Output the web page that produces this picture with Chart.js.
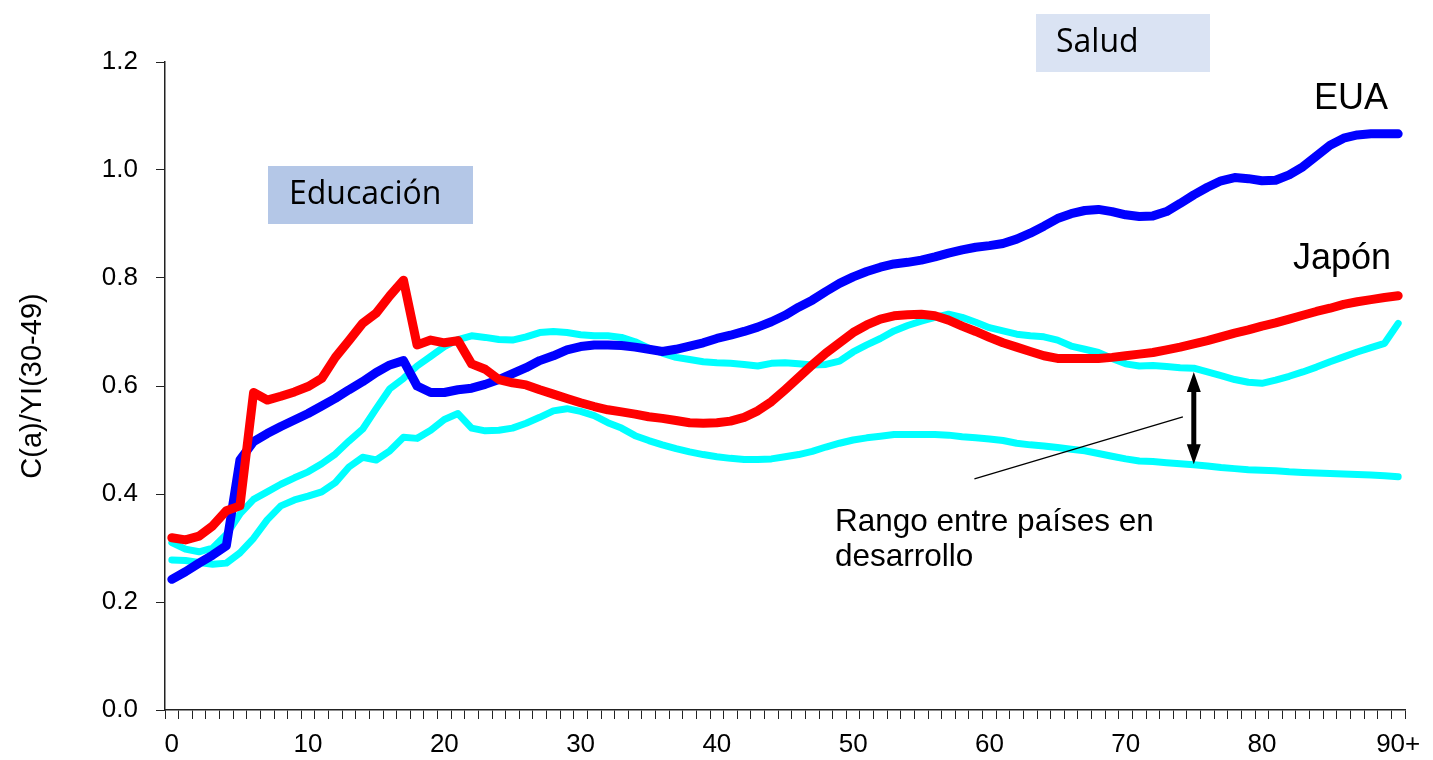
<!DOCTYPE html>
<html>
<head>
    <title>C(a)/YI(30-49)</title>
    <script src="https://cdn.jsdelivr.net/npm/chart.js"></script>
    <style>
        body { margin: 0; background: #fff; }
        canvas { display: block; }
    </style>
</head>
<body>
    <canvas id="chart" width="1433" height="760"></canvas>
    <script>
        // edades 0..89 y 90+
        const ages = [
            '0','1','2','3','4','5','6','7','8','9','10','11','12','13','14','15','16','17','18','19',
            '20','21','22','23','24','25','26','27','28','29','30','31','32','33','34','35','36','37','38','39',
            '40','41','42','43','44','45','46','47','48','49','50','51','52','53','54','55','56','57','58','59',
            '60','61','62','63','64','65','66','67','68','69','70','71','72','73','74','75','76','77','78','79',
            '80','81','82','83','84','85','86','87','88','89','90+'
        ];

        const japon = [
            0.319,0.315,0.322,0.341,0.369,0.378,0.588,0.574,0.581,0.589,
            0.599,0.614,0.653,0.684,0.716,0.735,0.767,0.796,0.676,0.685,
            0.680,0.684,0.641,0.631,0.612,0.606,0.602,0.593,0.585,0.577,
            0.569,0.562,0.556,0.552,0.548,0.543,0.540,0.536,0.532,0.531,
            0.532,0.535,0.542,0.554,0.571,0.593,0.616,0.639,0.661,0.680,
            0.699,0.713,0.724,0.730,0.732,0.733,0.730,0.722,0.711,0.701,
            0.690,0.680,0.672,0.664,0.656,0.651,0.651,0.651,0.651,0.653,
            0.656,0.659,0.662,0.667,0.672,0.678,0.684,0.691,0.698,0.704,
            0.711,0.717,0.724,0.731,0.738,0.744,0.751,0.756,0.760,0.764,0.767
        ];

        const eua = [
            0.242,0.256,0.272,0.287,0.304,0.463,0.497,0.512,0.525,0.537,
            0.549,0.563,0.577,0.593,0.608,0.625,0.639,0.647,0.600,0.588,
            0.588,0.593,0.596,0.603,0.612,0.623,0.634,0.647,0.656,0.667,
            0.673,0.676,0.676,0.675,0.672,0.668,0.664,0.668,0.674,0.680,
            0.688,0.694,0.701,0.709,0.719,0.731,0.746,0.759,0.775,0.790,
            0.802,0.812,0.820,0.826,0.829,0.833,0.839,0.846,0.852,0.857,
            0.860,0.864,0.872,0.883,0.896,0.910,0.919,0.925,0.927,0.923,
            0.917,0.914,0.915,0.923,0.938,0.954,0.968,0.980,0.986,0.984,
            0.980,0.981,0.991,1.006,1.026,1.046,1.059,1.065,1.067,1.067,1.067
        ];

        // rango entre países en desarrollo: borde superior e inferior
        const rangoAlto = [
            0.310,0.298,0.293,0.300,0.325,0.363,0.390,0.404,0.418,0.430,
            0.441,0.456,0.474,0.498,0.520,0.558,0.595,0.614,0.637,0.655,
            0.673,0.686,0.693,0.690,0.686,0.685,0.691,0.699,0.701,0.699,
            0.695,0.693,0.693,0.690,0.682,0.670,0.661,0.653,0.649,0.645,
            0.643,0.642,0.640,0.637,0.642,0.643,0.641,0.639,0.640,0.646,
            0.663,0.676,0.688,0.702,0.712,0.720,0.727,0.733,0.727,0.718,
            0.708,0.702,0.696,0.693,0.691,0.685,0.674,0.668,0.662,0.651,
            0.641,0.637,0.638,0.636,0.634,0.633,0.626,0.619,0.612,0.607,
            0.605,0.611,0.618,0.626,0.635,0.645,0.654,0.663,0.671,0.679,0.716
        ];

        const rangoBajo = [
            0.278,0.277,0.273,0.270,0.272,0.291,0.318,0.352,0.378,0.389,
            0.396,0.404,0.421,0.450,0.468,0.463,0.480,0.505,0.503,0.518,
            0.538,0.549,0.522,0.517,0.518,0.522,0.531,0.542,0.554,0.558,
            0.553,0.545,0.532,0.522,0.508,0.499,0.491,0.484,0.478,0.473,
            0.469,0.466,0.464,0.464,0.465,0.469,0.473,0.479,0.487,0.494,
            0.500,0.504,0.507,0.510,0.510,0.510,0.510,0.509,0.506,0.504,
            0.502,0.499,0.494,0.491,0.489,0.486,0.483,0.480,0.475,0.470,
            0.465,0.461,0.460,0.458,0.456,0.454,0.452,0.449,0.447,0.445,
            0.444,0.443,0.441,0.440,0.439,0.438,0.437,0.436,0.435,0.434,0.432
        ];

        const yTicks = [0, 0.2, 0.4, 0.6, 0.8, 1.0, 1.2];

        const arial = 'Arial, "Liberation Sans", sans-serif';
        const calibri = '"Open Sans", "Noto Sans", sans-serif';

        // cajas de texto, flecha y rotulos
        const notas = {
            id: 'notas',
            afterDatasetsDraw(chart) {
                const c = chart.ctx;
                const x = chart.scales.x, y = chart.scales.y;
                c.save();

                c.fillStyle = '#b4c7e7';
                c.fillRect(268, 166, 205, 58);
                c.fillStyle = '#dae3f3';
                c.fillRect(1036, 14, 174, 58);

                c.fillStyle = '#000';
                c.textBaseline = 'middle';
                c.textAlign = 'left';
                c.font = '32px ' + calibri;
                c.fillText('Educación', 289, 195);
                c.fillText('Salud', 1056, 43);

                c.font = '36px ' + arial;
                c.textAlign = 'right';
                c.fillText('EUA', 1388, 99);
                c.fillText('Japón', 1391, 259);

                c.font = '31.5px ' + arial;
                c.textAlign = 'left';
                c.fillText('Rango entre países en', 835, 522);
                c.fillText('desarrollo', 835, 557);

                // linea guia
                c.strokeStyle = '#000';
                c.lineWidth = 1.3;
                c.beginPath();
                c.moveTo(x.getPixelForValue(58.9), y.getPixelForValue(0.428));
                c.lineTo(x.getPixelForValue(74.2), y.getPixelForValue(0.543));
                c.stroke();

                // flecha doble
                const ax = x.getPixelForValue(75);
                const top = y.getPixelForValue(0.626);
                const bot = y.getPixelForValue(0.455);
                c.lineWidth = 5;
                c.beginPath();
                c.moveTo(ax, top + 14);
                c.lineTo(ax, bot - 14);
                c.stroke();
                c.beginPath();
                c.moveTo(ax, top);
                c.lineTo(ax - 7, top + 20);
                c.lineTo(ax + 7, top + 20);
                c.closePath();
                c.moveTo(ax, bot);
                c.lineTo(ax - 7, bot - 20);
                c.lineTo(ax + 7, bot - 20);
                c.closePath();
                c.fill();

                c.restore();
            }
        };

        const ctx = document.getElementById('chart').getContext('2d');
        new Chart(ctx, {
            type: 'line',
            data: {
                labels: ages,
                datasets: [
                    { label: 'Japón', data: japon, borderColor: '#ff0000', borderWidth: 9 },
                    { label: 'EUA', data: eua, borderColor: '#0000ff', borderWidth: 9 },
                    { label: 'Rango alto', data: rangoAlto, borderColor: '#00ffff', borderWidth: 7 },
                    { label: 'Rango bajo', data: rangoBajo, borderColor: '#00ffff', borderWidth: 7 }
                ]
            },
            options: {
                responsive: false,
                animation: false,
                datasets: {
                    line: {
                        pointRadius: 0,
                        tension: 0,
                        fill: false,
                        borderCapStyle: 'round',
                        borderJoinStyle: 'round'
                    }
                },
                layout: { padding: { top: 62, right: 28, left: 0, bottom: 0 } },
                plugins: {
                    legend: { display: false },
                    tooltip: { enabled: false }
                },
                scales: {
                    x: {
                        offset: true,
                        afterFit: s => { s.height = 50; },
                        grid: { drawOnChartArea: false, offset: true, tickLength: 9, color: '#222', lineWidth: 1 },
                        border: { color: '#222', width: 1.5 },
                        ticks: {
                            autoSkip: false,
                            maxRotation: 0,
                            padding: 10,
                            color: '#000',
                            font: { family: arial, size: 26 },
                            callback: (v, i) => (i % 10 === 0 ? ages[i] : '')
                        }
                    },
                    y: {
                        min: 0,
                        max: 1.2,
                        afterFit: s => { s.width = 165; },
                        afterBuildTicks: s => { s.ticks = yTicks.map(v => ({ value: v })); },
                        grid: { drawOnChartArea: false, tickLength: 9, color: '#222' },
                        border: { color: '#222', width: 1.5 },
                        ticks: {
                            padding: 18,
                            color: '#000',
                            font: { family: arial, size: 26 },
                            callback: v => v.toFixed(1)
                        },
                        title: {
                            display: true,
                            text: 'C(a)/YI(30-49)',
                            color: '#000',
                            font: { family: arial, size: 29 },
                            padding: { top: 16, bottom: 0 }
                        }
                    }
                }
            },
            plugins: [notas]
        });
    </script>
</body>
</html>
